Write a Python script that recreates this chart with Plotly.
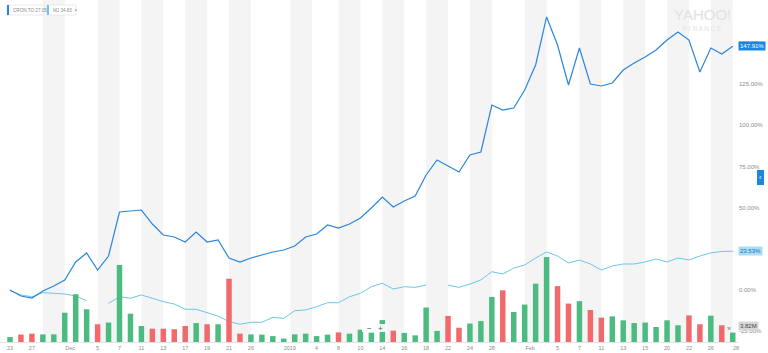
import plotly.graph_objects as go

# ---------------- data ----------------
dates = ["Nov 23", "Nov 26", "Nov 27", "Nov 28", "Nov 29", "Nov 30",
         "Dec 3", "Dec 4", "Dec 5", "Dec 6", "Dec 7", "Dec 10", "Dec 11", "Dec 12", "Dec 13", "Dec 14",
         "Dec 17", "Dec 18", "Dec 19", "Dec 20", "Dec 21", "Dec 24", "Dec 26", "Dec 27", "Dec 28", "Dec 31",
         "Jan 2", "Jan 3", "Jan 4", "Jan 7", "Jan 8", "Jan 9", "Jan 10", "Jan 11", "Jan 14", "Jan 15",
         "Jan 16", "Jan 17", "Jan 18", "Jan 21", "Jan 22", "Jan 23", "Jan 24", "Jan 25", "Jan 28", "Jan 29",
         "Jan 30", "Jan 31", "Feb 1", "Feb 4", "Feb 5", "Feb 6", "Feb 7", "Feb 8", "Feb 11", "Feb 12",
         "Feb 13", "Feb 14", "Feb 15", "Feb 19", "Feb 20", "Feb 21", "Feb 22", "Feb 25", "Feb 26", "Feb 27",
         "Feb 28"]

cron_pct = [0.00, -3.64, -4.85, -0.61, 2.43, 6.07, 16.99, 22.45, 12.14, 20.63,
            47.33, 47.94, 48.54, 40.05, 33.37, 32.16, 29.13, 35.19, 29.13, 30.34,
            19.42, 16.99, 19.42, 21.24, 23.06, 24.27, 26.70, 32.16, 33.98, 39.44,
            37.62, 40.05, 43.69, 49.76, 56.43, 50.36, 54.00, 57.04, 69.78, 78.88,
            75.24, 71.60, 81.92, 83.74, 112.26, 109.22, 110.44, 121.36, 136.53, 165.66,
            148.67, 124.39, 146.84, 125.00, 123.79, 125.61, 133.50, 137.74, 141.38, 145.63,
            151.70, 156.55, 151.70, 132.28, 146.84, 143.20, 147.91]

mj_pct = [-0.4, -3.0, -4.1, -1.6, -2.0, -2.4, -3.6, -6.5, None, -8.1,
          -4.1, -5.0, -3.0, -5.0, -7.1, -8.5, -11.7, -11.7, -13.8, -15.8,
          -19.2, -20.8, -19.6, -19.6, -16.6, -17.2, -12.6, -12.1, -10.1, -7.7,
          -7.7, -4.1, -2.0, 2.0, 4.1, 0.6, 2.0, 1.6, 3.0, None,
          3.0, 1.6, 3.6, 6.1, 11.1, 9.7, 13.3, 15.2, 19.4, 23.1,
          20.6, 16.4, 18.2, 15.8, 12.1, 14.6, 15.8, 15.8, 17.0, 18.8,
          17.0, 19.4, 18.2, 20.6, 22.5, 23.4, 23.53]

volume_m = [2.0, 3.0, 3.4, 3.1, 3.1, 11.9, 19.4, 13.3, 7.2, 7.9,
            31.3, 11.5, 6.5, 5.4, 5.4, 5.2, 6.5, 7.7, 7.2, 7.2,
            25.7, 3.4, 3.1, 3.0, 2.4, 1.4, 3.1, 3.4, 2.4, 3.0,
            3.9, 3.4, 5.0, 3.8, 8.9, 4.6, 3.7, 2.7, 14.0, 4.5,
            10.6, 5.8, 7.5, 8.5, 18.3, 21.0, 12.2, 15.2, 23.7, 34.5,
            22.7, 15.6, 16.6, 13.0, 9.9, 10.4, 8.8, 7.7, 7.9, 6.1,
            8.8, 6.8, 10.8, 7.2, 10.7, 6.8, 3.82]

tick_pos = [0, 2, 5.5, 8, 10, 12, 14, 16, 18, 20, 22, 25.55, 28, 30, 32, 34, 36, 38, 40, 42, 44,
            47.5, 50, 52, 54, 56, 58, 60, 62, 64, 66.3]
tick_text = ["23", "27", "Dec", "5", "7", "11", "13", "17", "19", "21", "26", "2019", "4", "8", "10",
             "14", "16", "18", "22", "24", "28", "Feb", "5", "7", "11", "13", "15", "20", "22", "26", "28"]

y_ticks = [-25, 0, 25, 50, 75, 100, 125, 150]
y_tick_text = ["-25.00%", "0.00%", "25.00%", "50.00%", "75.00%", "100.00%", "125.00%", "150.00%"]

shade_bands = [(3, 5), (8, 10), (12, 14), (16, 18), (20, 22), (25.6, 27.6), (30, 32), (34, 36),
               (38, 40), (42, 44), (47, 49), (52, 54), (56, 58), (60, 62), (64, 66)]

legend_cron = "CRON.TO 27.05"
legend_mj = "MJ 34.83"

# ---------------- style ----------------
C_CRON = "#2a86db"
C_MJ = "#6cc6ec"
C_UP = "#4cbb80"
C_DN = "#f06a6c"
FONT = "Liberation Sans, Arial, sans-serif"
PW, PH = 738, 342  # plot area in pixels


def px(xp):
    return xp / PW


def py(yp):
    return (PH - yp) / PH


n = len(dates)
x_idx = list(range(n))
bar_colors = [C_UP if (i == 0 or cron_pct[i] >= cron_pct[i - 1]) else C_DN for i in range(n)]

fig = go.Figure()

fig.add_trace(go.Bar(x=x_idx, y=volume_m, yaxis="y2", marker=dict(color=bar_colors, line_width=0),
                     width=0.5, hovertext=dates, name="Volume", showlegend=False))
fig.add_trace(go.Scatter(x=x_idx, y=mj_pct, mode="lines", line=dict(color=C_MJ, width=1),
                         connectgaps=False, hovertext=dates, name="MJ", showlegend=False))
fig.add_trace(go.Scatter(x=x_idx, y=cron_pct, mode="lines", line=dict(color=C_CRON, width=1.2),
                         hovertext=dates, name="CRON.TO", showlegend=False))

shapes = []
for a, b in shade_bands:
    shapes.append(dict(type="rect", xref="x", yref="paper", x0=a, x1=b, y0=0, y1=1,
                       fillcolor="#f4f4f4", line_width=0, layer="below"))
# legend chips
shapes.append(dict(type="rect", xref="paper", yref="paper", x0=px(7), x1=px(44),
                   y0=py(15), y1=py(5), fillcolor="white", line=dict(color="#dddddd", width=0.6)))
shapes.append(dict(type="rect", xref="paper", yref="paper", x0=px(7), x1=px(9),
                   y0=py(15), y1=py(5), fillcolor=C_CRON, line_width=0))
shapes.append(dict(type="rect", xref="paper", yref="paper", x0=px(47), x1=px(76),
                   y0=py(15), y1=py(5), fillcolor="white", line=dict(color="#dddddd", width=0.6)))
shapes.append(dict(type="rect", xref="paper", yref="paper", x0=px(47), x1=px(49),
                   y0=py(15), y1=py(5), fillcolor=C_MJ, line_width=0))
# zoom control box
shapes.append(dict(type="rect", xref="paper", yref="paper", x0=px(362), x1=px(387),
                   y0=py(332), y1=py(324), fillcolor="rgba(255,255,255,0.9)",
                   line_width=0, layer="above"))
# right-side tab
shapes.append(dict(type="rect", xref="paper", yref="paper", x0=px(757), x1=px(764),
                   y0=py(185), y1=py(170), fillcolor="#1f86e0", line_width=0))

annotations = [
    dict(xref="paper", yref="paper", x=px(10.5), y=py(10), text=legend_cron, showarrow=False,
         xanchor="left", yanchor="middle", font=dict(size=4.6, color="#8a8a8a", family=FONT)),
    dict(xref="paper", yref="paper", x=px(50.5), y=py(10), text=legend_mj + "  ×", showarrow=False,
         xanchor="left", yanchor="middle", font=dict(size=4.6, color="#8a8a8a", family=FONT)),
    dict(xref="paper", yref="paper", x=px(702), y=py(14), text="YAHOO!", showarrow=False,
         xanchor="center", yanchor="middle", font=dict(size=15, color="#e2e2e2", family=FONT)),
    dict(xref="paper", yref="paper", x=px(702), y=py(28), text="F I N A N C E", showarrow=False,
         xanchor="center", yanchor="middle", font=dict(size=6.5, color="#e2e2e2", family=FONT)),
    dict(xref="paper", yref="y", x=1, y=cron_pct[-1], text=f"{cron_pct[-1]:.2f}%", showarrow=False,
         xanchor="left", yanchor="middle", bgcolor="#1f86e0", borderpad=1,
         font=dict(size=6, color="white", family=FONT)),
    dict(xref="paper", yref="y", x=1, y=mj_pct[-1], text=f"{mj_pct[-1]:.2f}%", showarrow=False,
         xanchor="left", yanchor="middle", bgcolor="#a9def4", borderpad=1,
         font=dict(size=6, color="#1f6fb0", family=FONT)),
    dict(xref="paper", yref="y2", x=1, y=volume_m[-1], yshift=7, text=f"{volume_m[-1]:.2f}M", showarrow=False,
         xanchor="left", yanchor="middle", bgcolor="#d6d6d6", borderpad=1,
         font=dict(size=6, color="#444444", family=FONT)),
    dict(xref="paper", yref="paper", x=px(369), y=py(328), text="−", showarrow=False,
         xanchor="center", yanchor="middle", font=dict(size=8, color="#555555", family=FONT)),
    dict(xref="paper", yref="paper", x=px(380), y=py(328), text="+", showarrow=False,
         xanchor="center", yanchor="middle", font=dict(size=8, color="#555555", family=FONT)),
    dict(xref="paper", yref="paper", x=px(729), y=py(328), text="»", showarrow=False,
         xanchor="center", yanchor="middle", font=dict(size=7, color="#777777", family=FONT)),
    dict(xref="paper", yref="paper", x=px(760.5), y=py(177.5), text="‹", showarrow=False,
         xanchor="center", yanchor="middle", font=dict(size=7, color="white", family=FONT)),
]

fig.update_layout(
    width=768, height=353,
    margin=dict(l=0, r=30, t=0, b=11),
    paper_bgcolor="white", plot_bgcolor="white",
    font=dict(family=FONT, size=6, color="#8c8c8c"),
    bargap=0.5,
    xaxis=dict(range=[-0.913, 66.48], tickmode="array", tickvals=tick_pos, ticktext=tick_text,
               showgrid=False, zeroline=False, showline=True, linecolor="#e4e4e4", linewidth=1,
               ticks="", tickfont=dict(size=5.5, color="#8c8c8c")),
    yaxis=dict(side="right", range=[-31.55, 175.97], tickmode="array", tickvals=y_ticks,
               ticktext=y_tick_text, showgrid=False, zeroline=False, ticks="",
               tickfont=dict(size=6, color="#8c8c8c")),
    yaxis2=dict(overlaying="y", range=[0, 138.9], visible=False),
    shapes=shapes,
    annotations=annotations,
    showlegend=False,
)

fig.write_html("out.html")
